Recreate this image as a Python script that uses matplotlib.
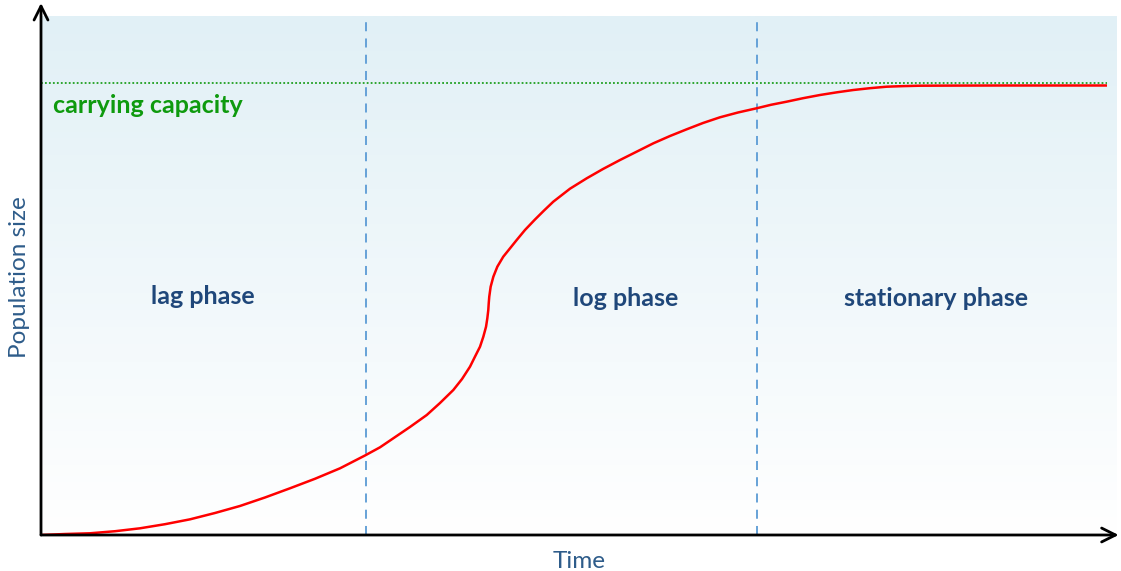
import numpy as np
import matplotlib
matplotlib.use("Agg")
import matplotlib.pyplot as plt
from matplotlib.colors import LinearSegmentedColormap

# ---- data ----
time = [0.0, 2.23, 4.55, 6.88, 9.20, 11.52, 13.85, 16.17, 18.49, 20.82,
        23.14, 25.46, 27.79, 30.11, 31.51, 32.74, 34.29, 35.85, 37.08, 38.32, 39.13,
        39.87, 40.33, 40.80, 41.11, 41.36, 41.48, 41.57, 41.61, 41.66, 41.79,
        42.04, 42.41, 42.96, 43.59, 44.21, 44.98, 45.91, 46.75, 47.61, 49.16,
        50.72, 52.23, 53.81, 55.39, 56.91, 58.46, 60.01, 61.52, 63.10, 64.78,
        66.51, 67.84, 69.30, 70.82, 72.40, 73.98, 75.49, 77.04, 78.60, 80.11,
        81.69, 84.48, 89.13, 99.07]
population = [0.0, 0.19, 0.33, 0.73, 1.29, 2.08, 3.02, 4.24, 5.59, 7.23,
              9.00, 10.83, 12.85, 15.32, 16.90, 18.63, 20.81, 23.12, 25.43, 27.94, 30.06,
              32.43, 34.35, 36.28, 38.21, 40.13, 41.75, 43.35, 44.64, 45.92, 47.84,
              49.77, 51.70, 53.62, 55.24, 56.84, 58.77, 60.79, 62.52, 64.22, 66.72,
              68.73, 70.52, 72.25, 73.89, 75.47, 76.88, 78.17, 79.38, 80.48, 81.41,
              82.22, 82.89, 83.49, 84.16, 84.78, 85.30, 85.74, 86.09, 86.38, 86.49,
              86.57, 86.59, 86.61, 86.61]
carrying_capacity = 87.0
phase_bounds = [30.2, 66.54]
phase_labels = ["lag phase", "log phase", "stationary phase"]
phase_label_x = [15.06, 54.37, 83.18]
phase_label_y = [46.05, 45.66, 45.66]

W, H = 1121, 571
fig = plt.figure(figsize=(W / 100, H / 100), dpi=100)
ax = fig.add_axes([41 / W, (571 - 535) / H, 1076 / W, 519 / H])
ax.set_xlim(0, 100)
ax.set_ylim(0, 100)

# gradient background
cmap = LinearSegmentedColormap.from_list("bg", ["#ffffff", "#e1f0f6"])
grad = np.linspace(0, 1, 256).reshape(-1, 1)
ax.imshow(grad, extent=[0, 100, 0, 100], origin="lower", cmap=cmap,
          aspect="auto", zorder=0)

for s in ax.spines.values():
    s.set_visible(False)
ax.set_xticks([])
ax.set_yticks([])

# carrying capacity
ax.plot([0, 99.07], [carrying_capacity, carrying_capacity], color="#1fa01f",
        linestyle=(0, (1, 1.2)), linewidth=1.3, zorder=2)
ax.text(1.12, 82.85, "carrying capacity", color="#0e9a0e", fontsize=18,
        fontweight="bold", family="Lato", ha="left", va="center")

# phase boundaries
for b in phase_bounds:
    ax.plot([b, b], [0, 100], color="#5b9bd5", linestyle=(0, (5, 4)),
            linewidth=1.3, zorder=2)

# curve
ax.plot(time, population, color="#ff0000", linewidth=1.8, zorder=3,
        solid_capstyle="butt", solid_joinstyle="round")

for lx, ly, lab in zip(phase_label_x, phase_label_y, phase_labels):
    ax.text(lx, ly, lab, color="#1f477a", fontsize=18, fontweight="bold",
            family="Lato", ha="center", va="center")

# axes arrows
akw = dict(arrowstyle="->,head_length=1.0,head_width=0.5", color="black",
           lw=2, shrinkA=0, shrinkB=0)
ax.annotate("", xy=(0, 1.025), xytext=(0, 0), xycoords="axes fraction",
            textcoords="axes fraction", arrowprops=akw, annotation_clip=False)
ax.annotate("", xy=(1.0015, 0), xytext=(0, 0), xycoords="axes fraction",
            textcoords="axes fraction", arrowprops=akw, annotation_clip=False)

fig.text(20 / W, 1 - 277 / H, "Population size", rotation=90, color="#2e5c8a",
         fontsize=17.5, family="Lato", ha="center", va="center")
fig.text(579 / W, 1 - 562 / H, "Time", color="#2e5c8a", fontsize=17.5,
         family="Lato", ha="center", va="center")

fig.savefig("out.png", dpi=100)
